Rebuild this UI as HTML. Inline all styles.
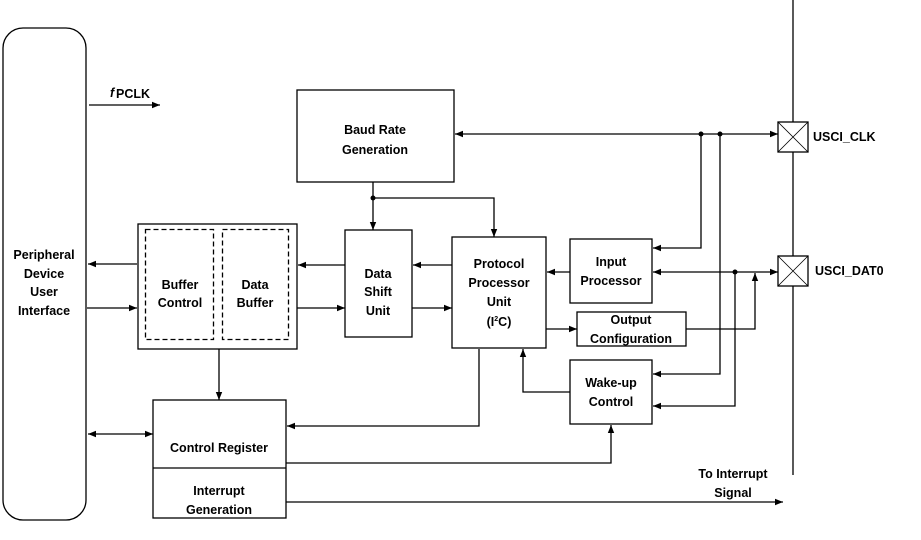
<!DOCTYPE html>
<html><head><meta charset="utf-8"><style>
html,body{margin:0;padding:0;background:#fff;width:921px;height:540px;overflow:hidden}
text{font-family:"Liberation Sans",sans-serif;font-weight:bold;font-size:12.5px;fill:#000}
</style></head><body>
<svg width="921" height="540" viewBox="0 0 921 540" xmlns="http://www.w3.org/2000/svg">
<defs><marker id="a" viewBox="0 0 10 10" refX="10" refY="5" markerWidth="8" markerHeight="8" markerUnits="userSpaceOnUse" orient="auto-start-reverse"><path d="M0,1 L10,5 L0,9 z" fill="#000"/></marker></defs>
<g fill="none" stroke="#000" stroke-width="1.3">
<rect x="3" y="28" width="83" height="492" rx="20"/>
<rect x="297" y="90" width="157" height="92"/>
<rect x="138" y="224" width="159" height="125"/>
<rect x="145.5" y="229.5" width="68" height="110" stroke-dasharray="5,3"/>
<rect x="222.5" y="229.5" width="66" height="110" stroke-dasharray="5,3"/>
<rect x="345" y="230" width="67" height="107"/>
<rect x="452" y="237" width="94" height="111"/>
<rect x="570" y="239" width="82" height="64"/>
<rect x="577" y="312" width="109" height="34"/>
<rect x="570" y="360" width="82" height="64"/>
<rect x="153" y="400" width="133" height="118"/>
<line x1="153" y1="468" x2="286" y2="468"/>
<line x1="793" y1="0" x2="793" y2="475"/>
<rect x="778" y="122" width="30" height="30" fill="#fff"/>
<path d="M778,122 L808,152 M808,122 L778,152" stroke-width="0.8"/>
<rect x="778" y="256" width="30" height="30" fill="#fff"/>
<path d="M778,256 L808,286 M808,256 L778,286" stroke-width="0.8"/>
<line x1="89" y1="105" x2="160" y2="105" marker-end="url(#a)"/>
<line x1="373" y1="182" x2="373" y2="230" marker-end="url(#a)"/>
<polyline points="373,198 494,198 494,237" marker-end="url(#a)"/>
<line x1="137" y1="264" x2="88" y2="264" marker-end="url(#a)"/>
<line x1="87" y1="308" x2="137" y2="308" marker-end="url(#a)"/>
<line x1="345" y1="265" x2="298" y2="265" marker-end="url(#a)"/>
<line x1="297" y1="308" x2="345" y2="308" marker-end="url(#a)"/>
<line x1="452" y1="265" x2="413" y2="265" marker-end="url(#a)"/>
<line x1="412" y1="308" x2="452" y2="308" marker-end="url(#a)"/>
<line x1="570" y1="272" x2="547" y2="272" marker-end="url(#a)"/>
<line x1="546" y1="329" x2="577" y2="329" marker-end="url(#a)"/>
<line x1="455" y1="134" x2="778" y2="134" marker-start="url(#a)" marker-end="url(#a)"/>
<polyline points="701,134 701,248 653,248" marker-end="url(#a)"/>
<polyline points="720,134 720,374 653,374" marker-end="url(#a)"/>
<line x1="653" y1="272" x2="778" y2="272" marker-start="url(#a)" marker-end="url(#a)"/>
<polyline points="735,272 735,406 653,406" marker-end="url(#a)"/>
<polyline points="686,329 755,329 755,273" marker-end="url(#a)"/>
<polyline points="570,392 523,392 523,349" marker-end="url(#a)"/>
<line x1="219" y1="349" x2="219" y2="400" marker-end="url(#a)"/>
<line x1="88" y1="434" x2="153" y2="434" marker-start="url(#a)" marker-end="url(#a)"/>
<polyline points="479,349 479,426 287,426" marker-end="url(#a)"/>
<polyline points="286,463 611,463 611,425" marker-end="url(#a)"/>
<line x1="286" y1="502" x2="783" y2="502" marker-end="url(#a)"/>
</g>
<g fill="#000"><circle cx="373" cy="198" r="2.5"/><circle cx="701" cy="134" r="2.5"/><circle cx="720" cy="134" r="2.5"/><circle cx="735" cy="272" r="2.5"/></g>
<g text-anchor="middle">
<text x="44" y="259">Peripheral</text><text x="44" y="278">Device</text><text x="44" y="296">User</text><text x="44" y="315">Interface</text>
<text x="375" y="134">Baud Rate</text><text x="375" y="154">Generation</text>
<text x="180" y="289">Buffer</text><text x="180" y="307">Control</text>
<text x="255" y="289">Data</text><text x="255" y="307">Buffer</text>
<text x="378" y="278">Data</text><text x="378" y="296">Shift</text><text x="378" y="315">Unit</text>
<text x="499" y="268">Protocol</text><text x="499" y="287">Processor</text><text x="499" y="306">Unit</text><text x="499" y="326">(I<tspan font-size="7" dy="-5">2</tspan><tspan dy="5">C)</tspan></text>
<text x="611" y="266">Input</text><text x="611" y="285">Processor</text>
<text x="631" y="324">Output</text><text x="631" y="343">Configuration</text>
<text x="611" y="387">Wake-up</text><text x="611" y="406">Control</text>
<text x="219" y="452">Control Register</text>
<text x="219" y="495">Interrupt</text><text x="219" y="514">Generation</text>
<text x="733" y="478">To Interrupt</text><text x="733" y="497">Signal</text>
</g>
<text x="813" y="141">USCI_CLK</text>
<text x="815" y="275">USCI_DAT0</text>
<text x="110" y="97" font-style="italic" font-size="15" font-family="Liberation Serif">f</text><text x="116" y="98" font-size="7.5">PCLK</text>
</svg>
</body></html>
